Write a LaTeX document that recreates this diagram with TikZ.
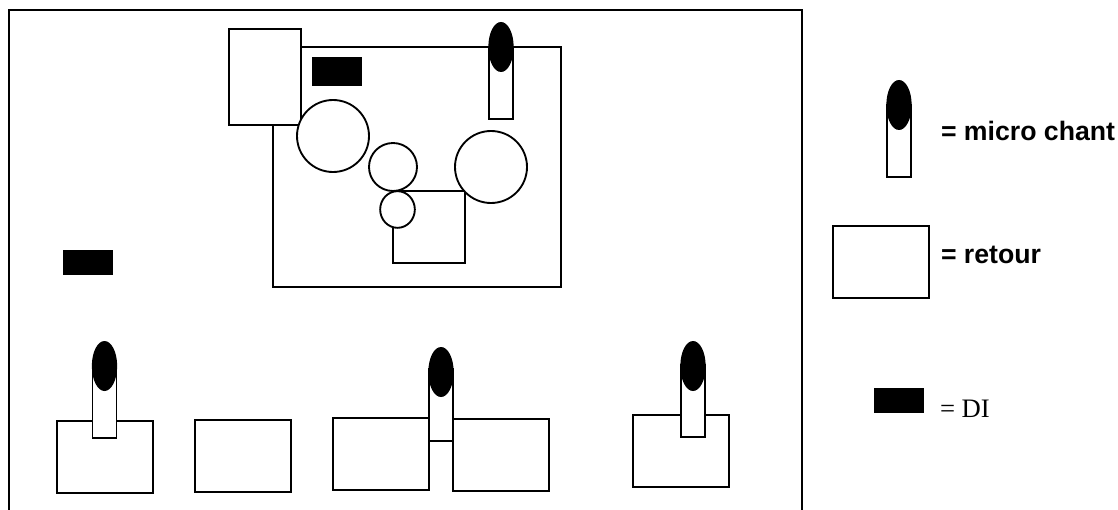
\documentclass[tikz,border=0pt]{standalone}
\usepackage{fontspec}
\setmainfont{Liberation Sans}
\newfontfamily\serifkind{Liberation Serif}
\usetikzlibrary{shapes.geometric}
\tikzset{
  x=0.75pt,y=-0.75pt,
  every node/.style={inner sep=0pt,outer sep=0pt},
  ln/.style={draw=black,line width=1.4pt,fill=white},
  retour/.style={ln,rectangle,minimum width=72pt,minimum height=54pt},
  ronde/.style={ln,circle,minimum size=#1},
  ditag/.style={rectangle,fill=black,minimum width=37.5pt,minimum height=18.75pt},
  stem/.style={ln,rectangle,anchor=south,minimum width=18pt,minimum height=#1},
  head/.style={ellipse,fill=black,minimum width=19pt,minimum height=37.5pt},
  lab/.style={anchor=base west,font=\bfseries\fontsize{20}{24}\selectfont},
  labdi/.style={anchor=base west,font=\serifkind\fontsize{20}{24}\selectfont}
}
\begin{document}
\begin{tikzpicture}
\useasboundingbox (0,0) rectangle (1118,510);
\coordinate (fa) at (9,510);
\coordinate (fb) at (9,10);
\coordinate (fc) at (802,10);
\coordinate (fd) at (802,510);
\draw[line width=1.5pt] (fa) -- (fb) -- (fc) -- (fd);
% stage
\node[ln,rectangle,minimum width=216pt,minimum height=180pt] (scene) at (417,167) {};
\node[ln,rectangle,minimum width=54pt,minimum height=72pt] (r0) at (265,77) {};
\node[ditag,minimum height=22pt] (d0) at (337,71.5) {};
\node[ronde=54pt] (c1) at (333,136) {};
\node[ln,rectangle,minimum width=54pt,minimum height=54pt] (sq) at (429,227) {};
\node[ronde=54pt] (c2) at (491,167) {};
\node[ronde=36pt] (c3) at (393,167) {};
\node[ln,ellipse,minimum width=26pt,minimum height=27.5pt] (c4) at (397.5,209.5) {};
\node[stem=54pt] (m0) at (501,119) {};
\node[head] (h0) at (501,47) {};
\node[ditag] (d1) at (88,262.5) {};
% front line
\node[retour] (r1) at (105,457) {};
\node[stem=54pt] (m1) at (104.5,438) {};
\node[head] (h1) at (104.5,366) {};
\node[retour] (r2) at (243,456) {};
\node[retour] (r3) at (381,454) {};
\node[retour] (r4) at (501,455) {};
\node[stem=54pt] (m2) at (441,441) {};
\node[head] (h2) at (441,372) {};
\node[retour] (r5) at (681,451) {};
\node[stem=54pt] (m3) at (693,437) {};
\node[head] (h3) at (693,366) {};
% legend
\node[stem=54pt] (m4) at (899,177) {};
\node[head] (h4) at (899,105) {};
\node[lab] (t1) at (941,140.5) {= micro chant};
\node[retour] (r6) at (881,262) {};
\node[lab] (t2) at (941,263) {= retour};
\node[ditag] (d2) at (899,400.5) {};
\node[labdi] (t3) at (940,417.5) {= DI};
\end{tikzpicture}
\end{document}
